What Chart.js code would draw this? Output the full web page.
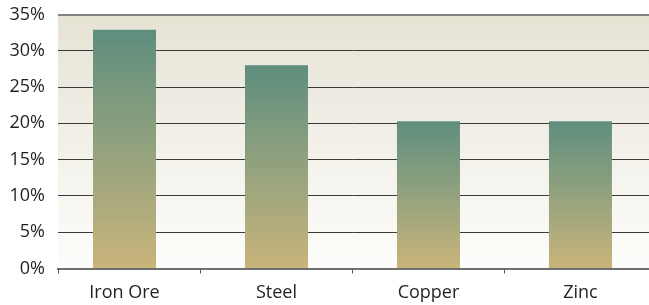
<!DOCTYPE html>
<html>
<head>
<meta charset="utf-8">
<script src="https://cdn.jsdelivr.net/npm/chart.js@4"></script>
<style>
html,body{margin:0;padding:0;background:#fff;}
#wrap{width:649px;height:305px;position:relative;}
</style>
</head>
<body>
<div id="wrap"><canvas id="c"></canvas></div>
<script>
const categories = ['Iron Ore', 'Steel', 'Copper', 'Zinc'];
const shares = [32.9, 28.0, 20.3, 20.3];
const yTickValues = [0, 5, 10, 15, 20, 25, 30, 35];
const yTickLabels = ['0%', '5%', '10%', '15%', '20%', '25%', '30%', '35%'];

Chart.defaults.font.family = "'Open Sans', sans-serif";
Chart.defaults.font.size = 18;
Chart.defaults.color = '#231f20';

const plotBg = {
  id: 'plotBg',
  beforeDraw(chart) {
    const a = chart.chartArea, c = chart.ctx;
    const g = c.createLinearGradient(0, a.top, 0, a.bottom);
    g.addColorStop(0, '#e6e3d5');
    g.addColorStop(1, '#fdfdfb');
    c.save();
    c.fillStyle = g;
    c.fillRect(a.left, a.top, a.right - a.left, a.bottom - a.top);
    c.restore();
  },
  afterDraw(chart) {
    const a = chart.chartArea, c = chart.ctx;
    c.save();
    c.strokeStyle = '#555';
    c.lineWidth = 1;
    c.beginPath();
    c.moveTo(a.left + 0.5, a.bottom);
    c.lineTo(a.left + 0.5, a.bottom + 5);
    c.stroke();
    c.restore();
  }
};

function barFill(ctx) {
  const chart = ctx.chart;
  if (!chart.chartArea || ctx.type !== 'data') return '#8fa07e';
  const y = chart.scales.y;
  const top = y.getPixelForValue(ctx.parsed.y);
  const bot = y.getPixelForValue(0);
  const g = chart.ctx.createLinearGradient(0, top, 0, bot);
  g.addColorStop(0, '#5e8e7e');
  g.addColorStop(0.5, '#93a27e');
  g.addColorStop(1, '#c9b47a');
  return g;
}

new Chart(document.getElementById('c'), {
  type: 'bar',
  data: {
    datasets: [{
      data: categories.map((c, i) => ({ x: i, y: shares[i] })),
      backgroundColor: barFill,
      borderWidth: 0,
      categoryPercentage: 1,
      barPercentage: 0.4145
    }]
  },
  options: {
    responsive: true,
    maintainAspectRatio: false,
    animation: false,
    events: [],
    layout: { padding: { top: 14.5, right: 0, left: 0, bottom: 0 } },
    plugins: { legend: { display: false }, tooltip: { enabled: false } },
    scales: {
      x: {
        type: 'linear',
        offset: false,
        min: -0.4375,
        max: 3.451,
        afterBuildTicks: (s) => { s.ticks = categories.map((c, i) => ({ value: i })); },
        afterFit: (s) => { s.height = 36.5; s.paddingLeft = 0; s.paddingRight = 0; },
        ticks: {
          padding: 9,
          callback: (v) => categories[v] ?? ''
        },
        grid: {
          offset: true,
          drawOnChartArea: false,
          drawTicks: true,
          tickLength: 5,
          color: '#555',
          lineWidth: 1
        },
        border: { display: true, color: 'rgba(50,50,50,0.7)', width: 2, z: 1 }
      },
      y: {
        min: 0,
        max: 35,
        afterBuildTicks: (s) => { s.ticks = yTickValues.map(v => ({ value: v })); },
        afterFit: (s) => { s.width = 58; s.paddingTop = 0; s.paddingBottom = 0; },
        ticks: {
          padding: 13,
          callback: (v) => yTickLabels[yTickValues.indexOf(v)]
        },
        grid: {
          drawTicks: false,
          color: (ctx) => ctx.tick.value === 35 ? 'rgba(125,125,120,0.95)' : (ctx.tick.value === 0 ? 'rgba(0,0,0,0)' : '#3a3a3a'),
          lineWidth: (ctx) => ctx.tick.value === 35 ? 2 : 1
        },
        border: { display: false }
      }
    }
  },
  plugins: [plotBg]
});
</script>
</body>
</html>
